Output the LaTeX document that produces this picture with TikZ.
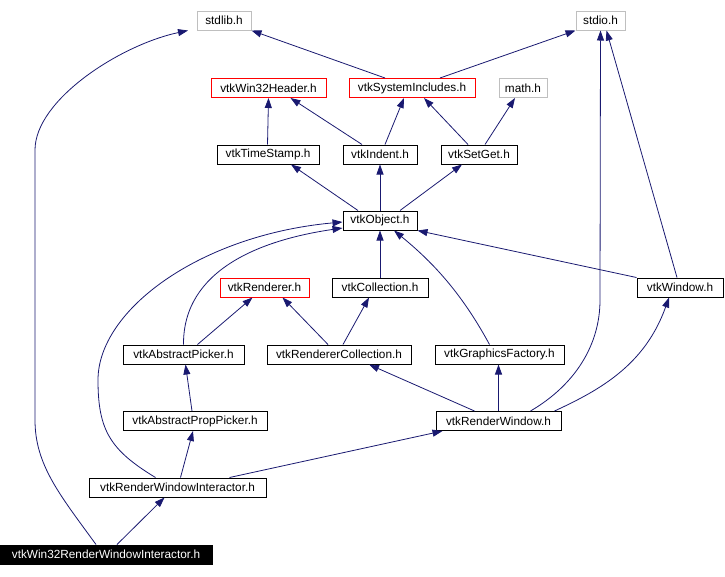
\documentclass[tikz,border=0pt]{standalone}
\usepackage{fontspec}
\setmainfont{Liberation Sans}
\usepackage{tikz}
\usetikzlibrary{arrows.meta}
\definecolor{cazul}{HTML}{191970}
\definecolor{cgris}{HTML}{BFBFBF}
\definecolor{crojo}{HTML}{FF0000}
\tikzset{
  caja/.style={rectangle, draw=black, fill=white, line width=1pt, inner sep=0pt,
    minimum height=19pt, font=\fontsize{11.8}{13}\selectfont},
  cajar/.style={caja, draw=crojo},
  cajag/.style={caja, draw=cgris},
  cajan/.style={caja, fill=black, text=white},
  flecha/.style={-{Triangle[length=10pt, width=7pt]}, line width=0.8pt, draw=cazul},
}

\begin{document}
\begin{tikzpicture}[x=1pt, y=-1pt]
  \useasboundingbox (0,0) rectangle (725,576);
  % first row
  \node[cajag, minimum width=54pt] (stdlib) at (224,20.5) {stdlib.h};
  \node[cajag, minimum width=49pt] (stdio) at (600.5,20.5) {stdio.h};
  \node[cajar, minimum width=115pt] (win32hdr) at (268.5,88) {vtkWin32Header.h};
  \node[cajar, minimum width=126pt] (sysinc) at (412,88) {vtkSystemIncludes.h};
  \node[cajag, minimum width=48pt] (math) at (523,88) {math.h};
  \node[caja, minimum width=102pt] (timestamp) at (268,154.5) {vtkTimeStamp.h};
  \node[caja, minimum width=74pt] (indent) at (380,154.5) {vtkIndent.h};
  \node[caja, minimum width=76pt] (setget) at (479,154.5) {vtkSetGet.h};
  \node[caja, minimum width=74pt] (object) at (380,220.5) {vtkObject.h};
  % middle
  \node[cajar, minimum width=89pt] (renderer) at (264.5,287.5) {vtkRenderer.h};
  \node[caja, minimum width=96pt] (collection) at (380,287.5) {vtkCollection.h};
  \node[caja, minimum width=86pt] (window) at (680,287.5) {vtkWindow.h};
  \node[caja, minimum width=121pt] (abspicker) at (183.5,354.5) {vtkAbstractPicker.h};
  \node[caja, minimum width=144pt] (rencoll) at (339,354.5) {vtkRendererCollection.h};
  \node[caja, minimum width=129pt] (gfxfactory) at (499.5,354.5) {vtkGraphicsFactory.h};
  \node[caja, minimum width=144pt] (proppicker) at (195,421) {vtkAbstractPropPicker.h};
  \node[caja, minimum width=125pt] (renwin) at (498.5,421) {vtkRenderWindow.h};
  \node[caja, minimum width=177pt] (rwi) at (177.5,487.5) {vtkRenderWindowInteractor.h};
  \node[cajan, minimum width=212pt] (win32rwi) at (106,554.5) {vtkWin32RenderWindowInteractor.h};

  % includes
  \draw[flecha] ([xshift=-27pt]sysinc.north) -- (stdlib.south east);
  \draw[flecha] ([xshift=28pt]sysinc.north) -- (stdio.south west);
  \draw[flecha] ([xshift=-10pt]win32rwi.north) .. controls (60,495) and (35,465) .. (35,420)
    -- (35,150) .. controls (35,100) and (120,45) .. ([xshift=-36pt]stdlib.south);
  \draw[flecha] ([xshift=-0.5pt]timestamp.north) -- (win32hdr.south);
  \draw[flecha] ([xshift=-18pt]indent.north) -- ([xshift=22pt]win32hdr.south);
  \draw[flecha] ([xshift=5pt]indent.north) -- ([xshift=-8pt]sysinc.south);
  \draw[flecha] ([xshift=-11pt]setget.north) -- ([xshift=12pt]sysinc.south);
  \draw[flecha] ([xshift=6pt]setget.north) -- ([xshift=-8pt]math.south);
  \draw[flecha] ([xshift=-22pt]object.north) -- ([xshift=23pt]timestamp.south);
  \draw[flecha] (object.north) -- (indent.south);
  \draw[flecha] ([xshift=20pt]object.north) -- ([xshift=-17pt]setget.south);
  \draw[flecha] (collection.north) -- (object.south);
  \draw[flecha] ([xshift=-10pt]gfxfactory.north) .. controls (460,290) and (430,260) .. ([xshift=14pt]object.south);
  \draw[flecha] (window.north west) -- (object.south east);
  \draw[flecha] ([xshift=-3pt]window.north) -- ([xshift=6pt]stdio.south);
  \draw[flecha] ([xshift=32pt]renwin.north) .. controls (575,385) and (600,345) .. (600,300) -- (stdio.south);
  \draw[flecha] ([xshift=56pt]renwin.north) .. controls (600,390) and (645,365) .. ([xshift=-11pt]window.south);
  \draw[flecha] (renwin.north) -- ([xshift=-1pt]gfxfactory.south);
  \draw[flecha] ([xshift=-24pt]renwin.north) -- ([xshift=30pt]rencoll.south);
  \draw[flecha] ([xshift=-11pt]rencoll.north) -- ([xshift=18pt]renderer.south);
  \draw[flecha] ([xshift=4pt]rencoll.north) -- ([xshift=-11pt]collection.south);
  \draw[flecha] ([xshift=14pt]abspicker.north) -- ([xshift=-12pt]renderer.south);
  \draw[flecha] (abspicker.north) .. controls (183,270) and (260,240) .. ([yshift=-7.5pt]object.west);
  \draw[flecha] ([xshift=-22pt]rwi.north) .. controls (110,450) and (98,430) .. (98,380)
    .. controls (98,310) and (200,235) .. ([yshift=-1.5pt]object.west);
  \draw[flecha] ([xshift=3pt]rwi.north) -- ([xshift=-2pt]proppicker.south);
  \draw[flecha] ([xshift=52pt]rwi.north) -- ([xshift=-56pt]renwin.south);
  \draw[flecha] ([xshift=-3pt]proppicker.north) -- ([xshift=2pt]abspicker.south);
  \draw[flecha] ([xshift=11pt]win32rwi.north) -- ([xshift=-13pt]rwi.south);
\end{tikzpicture}
\end{document}
